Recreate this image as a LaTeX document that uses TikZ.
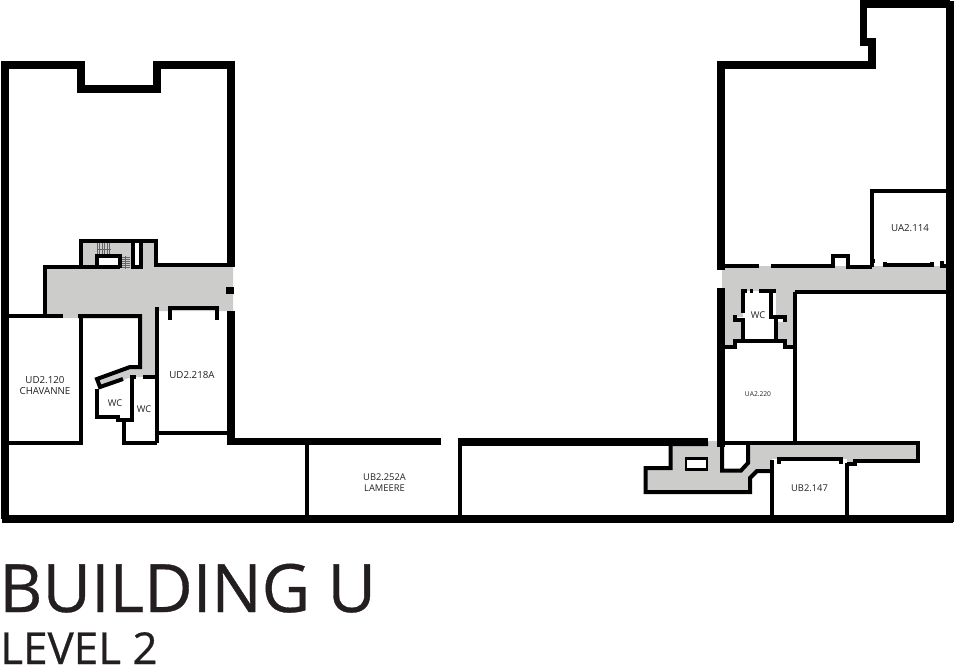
\documentclass[tikz,border=0pt]{standalone}
\usepackage{fontspec}
\setmainfont{Open Sans}
\usetikzlibrary{positioning}
\definecolor{fpwall}{RGB}{0,0,0}
\definecolor{fpcorr}{RGB}{204,204,203}
\definecolor{fpink}{RGB}{35,31,32}
\tikzset{
  outer/.style={draw=fpwall, line width=5.6pt, line join=miter},
  inner/.style={draw=fpwall, line width=3pt, line join=miter},
  pillar/.style={draw=fpwall, line width=2pt, line join=miter},
  corr/.style={fill=fpcorr, draw=none},
  tread/.style={draw=fpink!70, line width=0.35pt},
  room/.style={font=\fontsize{7.3}{8.3}\selectfont, text=fpink, align=center, inner sep=0pt},
  tinyroom/.style={room, font=\fontsize{5}{6}\selectfont},
  wc/.style={room, font=\fontsize{7}{8}\selectfont}
}
\begin{document}
\begin{tikzpicture}[x=0.75pt, y=-0.75pt]
  \useasboundingbox (0,0) rectangle (954,667);

  \fill[corr] (45,268) -- (81,268) -- (81,241) -- (156,241) -- (156,266) -- (233,266)
    -- (233,311) -- (157,311) -- (157,377) -- (132,377) -- (100,388) -- (97,379)
    -- (130,367) -- (140,367) -- (140,318) -- (45,318) -- cycle;
  \fill[corr] (722,266) -- (947,266) -- (947,291) -- (795,291) -- (795,346) -- (785,346)
    -- (785,341) -- (735,341) -- (735,346) -- (722,346) -- cycle;
  \fill[corr] (670,443) -- (700,443) -- (700,441) -- (720,441) -- (720,471) -- (741,471)
    -- (748,463) -- (748,444) -- (918,444) -- (918,461) -- (855,461) -- (855,464)
    -- (772,464) -- (772,471) -- (757,471) -- (750,478) -- (750,492) -- (645,492)
    -- (645,468) -- (670,468) -- cycle;

  \fill[white] (743,291) rectangle (776,341);
  \fill[white] (736,317) rectangle (785,322);
  \fill[white] (772,459) rectangle (847,470);
  \fill[white] (97,256) rectangle (120,267);
  \fill[white] (133,241) rectangle (141,267);

  \foreach \tx in {97,99.5,102,104.5,107,109.5}
    \draw[tread] (\tx,243) -- (\tx,255);
  \draw[tread] (97,249) -- (111,249);
  \foreach \ty in {257,259,261,263,265,267}
    \draw[tread] (121,\ty) -- (130,\ty);
  \draw[tread] (125.5,256) -- (125.5,269);

  \draw[outer] (1.3,65) -- (81,65) -- (81,89) -- (157,89) -- (157,65) -- (231,65) -- (231,267);
  \draw[outer] (5,62) -- (5,519);
  \draw[outer] (2,519) -- (953,519);
  \draw[outer] (950,1) -- (950,522);
  \draw[outer] (226,290.5) -- (234,290.5);
  \draw[outer] (231,311) -- (231,441.5) -- (441,441.5);
  \draw[outer] (458,442) -- (708,442);
  \draw[outer] (721,68) -- (721,65) -- (872,65) -- (872,42) -- (863.5,42) -- (863.5,4) -- (950,4);
  \draw[outer] (721,65) -- (721,270);
  \draw[outer] (721,288) -- (721,447);

  \draw[inner] (44.5,316) -- (44.5,267) -- (120,267);
  \draw[inner] (81,267) -- (81,241) -- (156,241) -- (156,265) -- (231,265);
  \draw[inner] (97,267) -- (97,256) -- (120,256) -- (120,268);
  \draw[inner] (133,241) -- (133,267) -- (141,267) -- (141,241);
  \draw[inner] (5,316) -- (63,316);
  \draw[inner] (78,316) -- (140,316) -- (140,367) -- (130,367) -- (97,379) -- (100,387) -- (123,379);
  \draw[inner] (81,316) -- (81,443) -- (5,443);
  \draw[inner] (97,389) -- (97,417) -- (118,417) -- (118,420) -- (132,420) -- (132,377) -- (136,377);
  \draw[inner] (143,377) -- (157,377);
  \draw[inner] (124,420) -- (124,443) -- (157,443);
  \draw[inner] (157,307) -- (157,443);
  \draw[inner] (157,433) -- (229,433);
  \draw[inner] (170,320) -- (170,308) -- (217,308) -- (217,320);
  \draw[inner] (307,441) -- (307,519);
  \draw[inner] (460,441) -- (460,519);

  \draw[inner] (723,266) -- (759,266);
  \draw[inner] (771,266) -- (833,266) -- (833,256) -- (848,256) -- (848,267) -- (872,267);
  \draw[inner] (872,267) -- (872,191) -- (948,191);
  \draw[inner] (870,261) -- (875,261);
  \draw[inner] (885,262) -- (885,265) -- (932,265) -- (932,262);
  \draw[inner] (942,261) -- (942,266) -- (948,266);
  \draw[inner] (795,292) -- (948,292);
  \draw[inner] (795,292) -- (795,443);
  \draw[inner] (743,313) -- (743,291) -- (747,291);
  \draw[inner] (750,291) -- (753,291);
  \draw[inner] (759,291) -- (776,291);
  \draw[inner] (771,291) -- (771,317) -- (785,317) -- (785,322);
  \draw[inner] (735,315) -- (735,320) -- (743,320) -- (743,342);
  \draw[inner] (776,317) -- (776,342);
  \draw[inner] (724,347) -- (735,347) -- (735,341) -- (785,341) -- (785,347) -- (795,347);

  \draw[inner] (722,443) -- (918,443) -- (918,460.5) -- (855,460.5) -- (855,463.5) -- (847,463.5);
  \draw[inner] (708,444) -- (670.5,444) -- (670.5,468) -- (645.5,468) -- (645.5,492) -- (750,492)
    -- (750,478) -- (757,471) -- (772,471);
  \draw[inner] (722,443) -- (722,470.5) -- (741,470.5) -- (748,463) -- (748,443);
  \draw[inner] (772,460) -- (772,519);
  \draw[inner] (847,463) -- (847,519);
  \draw[inner] (779,464) -- (779,459) -- (841,459) -- (841,464);
  \draw[pillar, fill=white] (686,458.5) rectangle (707,469.5);

  \node[room] (chavanne) at (45,385.5) {UD2.120\\CHAVANNE};
  \node[room] (ud218) at (192,375.5) {UD2.218A};
  \node[wc] (wcleft) at (115,403) {WC};
  \node[wc] (wcright) at (144,409.5) {WC};
  \node[room, font=\fontsize{7}{8.3}\selectfont] (lameere) at (384.5,483) {UB2.252A\\LAMEERE};
  \node[room] (ua114) at (910,228.5) {UA2.114};
  \node[wc] (wcup) at (758,315.5) {WC};
  \node[tinyroom] (ua220) at (758,394.5) {UA2.220};
  \node[room, font=\fontsize{7}{8}\selectfont] (ub147) at (809.5,488.5) {UB2.147};

  \node[anchor=base west, inner sep=0pt, text=fpink, font=\addfontfeature{FakeBold=0.5}\fontsize{50}{50}\selectfont] (title) at (-1,612) {BUILDING U};
  \node[anchor=base west, inner sep=0pt, text=fpink, font=\addfontfeature{FakeBold=0.5}\fontsize{33}{33}\selectfont] (level) at (0,664) {LEVEL 2};
\end{tikzpicture}
\end{document}
